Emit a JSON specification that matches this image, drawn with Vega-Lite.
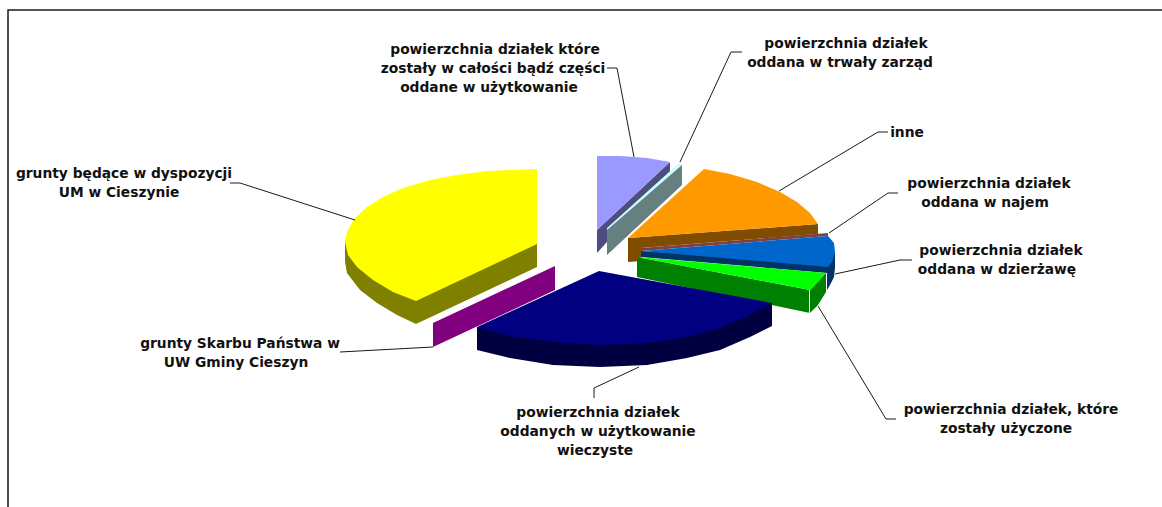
{"$schema":"https://vega.github.io/schema/vega-lite/v6.json","width":1162,"height":507,"autosize":{"type":"none"},"padding":0,"background":"white","config":{"view":{"stroke":null}},
"datasets":{
"shapes":[
{"part":"lilac side","x":597,"y":230},{"part":"lilac side","x":670,"y":162},{"part":"lilac side","x":670,"y":172},{"part":"lilac side","x":597,"y":253},
{"part":"lilac top","x":597,"y":156},{"part":"lilac top","x":620,"y":156},{"part":"lilac top","x":647,"y":158},{"part":"lilac top","x":670,"y":162},{"part":"lilac top","x":597,"y":230},
{"part":"teal side","x":607,"y":229},{"part":"teal side","x":682,"y":164},{"part":"teal side","x":682,"y":185},{"part":"teal side","x":607,"y":255},
{"part":"teal top","x":607,"y":228},{"part":"teal top","x":678,"y":164},{"part":"teal top","x":682,"y":162},{"part":"teal top","x":682,"y":165},{"part":"teal top","x":607,"y":230},
{"part":"orange side","x":628,"y":238},{"part":"orange side","x":818,"y":224},{"part":"orange side","x":818,"y":234},{"part":"orange side","x":641,"y":248},{"part":"orange side","x":641,"y":261},{"part":"orange side","x":628,"y":262},
{"part":"orange top","x":628,"y":238},{"part":"orange top","x":704,"y":169},{"part":"orange top","x":730,"y":174},{"part":"orange top","x":757,"y":182},{"part":"orange top","x":780,"y":192},{"part":"orange top","x":797,"y":202},{"part":"orange top","x":810,"y":213},{"part":"orange top","x":818,"y":224},
{"part":"maroon","x":641,"y":248},{"part":"maroon","x":828,"y":233},{"part":"maroon","x":828,"y":236},{"part":"maroon","x":641,"y":251},
{"part":"blue side","x":641,"y":251},{"part":"blue side","x":830,"y":262},{"part":"blue side","x":835,"y":252},{"part":"blue side","x":835,"y":268},{"part":"blue side","x":834,"y":277},{"part":"blue side","x":830,"y":285},{"part":"blue side","x":827,"y":290},{"part":"blue side","x":827,"y":273},{"part":"blue side","x":641,"y":257},
{"part":"blue top","x":641,"y":251},{"part":"blue top","x":828,"y":236},{"part":"blue top","x":834,"y":243},{"part":"blue top","x":835,"y":252},{"part":"blue top","x":832,"y":262},{"part":"blue top","x":828,"y":267},
{"part":"green side","x":637,"y":257},{"part":"green side","x":810,"y":290},{"part":"green side","x":826,"y":273},{"part":"green side","x":826,"y":292},{"part":"green side","x":818,"y":305},{"part":"green side","x":810,"y":313},{"part":"green side","x":637,"y":277},
{"part":"green top","x":637,"y":257},{"part":"green top","x":826,"y":273},{"part":"green top","x":818,"y":282},{"part":"green top","x":810,"y":290},
{"part":"green edge","x":809,"y":290},{"part":"green edge","x":810,"y":290},{"part":"green edge","x":810,"y":313},{"part":"green edge","x":809,"y":313},
{"part":"navy side","x":477,"y":327},{"part":"navy side","x":772,"y":303},{"part":"navy side","x":772,"y":326},{"part":"navy side","x":750,"y":337},{"part":"navy side","x":720,"y":350},{"part":"navy side","x":687,"y":358},{"part":"navy side","x":647,"y":365},{"part":"navy side","x":600,"y":367},{"part":"navy side","x":553,"y":365},{"part":"navy side","x":510,"y":358},{"part":"navy side","x":477,"y":350},
{"part":"navy top","x":599,"y":271},{"part":"navy top","x":772,"y":303},{"part":"navy top","x":750,"y":315},{"part":"navy top","x":720,"y":328},{"part":"navy top","x":687,"y":337},{"part":"navy top","x":647,"y":343},{"part":"navy top","x":600,"y":345},{"part":"navy top","x":553,"y":342},{"part":"navy top","x":510,"y":336},{"part":"navy top","x":477,"y":327},
{"part":"purple","x":433,"y":323},{"part":"purple","x":555,"y":266},{"part":"purple","x":555,"y":290},{"part":"purple","x":433,"y":347},
{"part":"yellow side","x":345,"y":240},{"part":"yellow side","x":537,"y":244},{"part":"yellow side","x":537,"y":267},{"part":"yellow side","x":416,"y":324},{"part":"yellow side","x":397,"y":315},{"part":"yellow side","x":377,"y":303},{"part":"yellow side","x":360,"y":290},{"part":"yellow side","x":347,"y":273},{"part":"yellow side","x":345,"y":262},
{"part":"yellow top","x":537,"y":169},{"part":"yellow top","x":537,"y":244},{"part":"yellow top","x":416,"y":301},{"part":"yellow top","x":393,"y":292},{"part":"yellow top","x":373,"y":280},{"part":"yellow top","x":357,"y":267},{"part":"yellow top","x":348,"y":255},{"part":"yellow top","x":345,"y":242},{"part":"yellow top","x":347,"y":232},{"part":"yellow top","x":354,"y":219},{"part":"yellow top","x":367,"y":207},{"part":"yellow top","x":383,"y":197},{"part":"yellow top","x":403,"y":188},{"part":"yellow top","x":430,"y":180},{"part":"yellow top","x":457,"y":175},{"part":"yellow top","x":487,"y":171},{"part":"yellow top","x":510,"y":170}
],
"leaders":[
{"line":"uzytkowanie","x":607,"y":68},{"line":"uzytkowanie","x":617,"y":68},{"line":"uzytkowanie","x":634,"y":157},
{"line":"trwaly","x":742,"y":52},{"line":"trwaly","x":731,"y":52},{"line":"trwaly","x":680,"y":162},
{"line":"inne","x":888,"y":132},{"line":"inne","x":878,"y":132},{"line":"inne","x":779,"y":191},
{"line":"najem","x":898,"y":193},{"line":"najem","x":888,"y":193},{"line":"najem","x":829,"y":233},
{"line":"dzierzawa","x":912,"y":260},{"line":"dzierzawa","x":900,"y":260},{"line":"dzierzawa","x":835,"y":274},
{"line":"uzyczone","x":896,"y":419},{"line":"uzyczone","x":886,"y":419},{"line":"uzyczone","x":818,"y":306},
{"line":"wieczyste","x":639,"y":367},{"line":"wieczyste","x":594,"y":388},{"line":"wieczyste","x":594,"y":398},
{"line":"skarb","x":433,"y":347},{"line":"skarb","x":340,"y":352},
{"line":"um","x":230,"y":183},{"line":"um","x":240,"y":183},{"line":"um","x":355,"y":220}
],
"frame":[{"x":8,"y":507},{"x":8,"y":10},{"x":1162,"y":10}],
"labels":[
{"text":"powierzchnia działek które","x":495,"y":50},{"text":"zostały w całości bądź części","x":493,"y":69},{"text":"oddane w użytkowanie","x":489,"y":88},
{"text":"powierzchnia działek","x":846,"y":44},{"text":"oddana  w trwały zarząd","x":840,"y":63},
{"text":"inne","x":907,"y":133},
{"text":"powierzchnia działek","x":989,"y":184},{"text":"oddana w najem","x":985,"y":203},
{"text":"powierzchnia działek","x":1001,"y":251},{"text":"oddana w dzierżawę","x":997,"y":270},
{"text":"powierzchnia działek, które","x":1011,"y":410},{"text":"zostały użyczone","x":1006,"y":429},
{"text":"grunty będące w dyspozycji","x":124,"y":174},{"text":"UM w Cieszynie","x":119,"y":193},
{"text":"grunty Skarbu Państwa w","x":240,"y":344},{"text":"UW Gminy Cieszyn","x":236,"y":363},
{"text":"powierzchnia działek","x":598,"y":413},{"text":"oddanych w użytkowanie","x":598,"y":432},{"text":"wieczyste","x":595,"y":451}
]},
"encoding":{
"x":{"field":"x","type":"quantitative","scale":{"domain":[0,1162],"nice":false,"zero":false},"axis":null},
"y":{"field":"y","type":"quantitative","scale":{"domain":[507,0],"nice":false,"zero":false},"axis":null}},
"layer":[
{"data":{"name":"frame"},"transform":[{"window":[{"op":"row_number","as":"seq"}]}],"mark":{"type":"line","stroke":"#1a1a1a","strokeWidth":1.5},"encoding":{"order":{"field":"seq","type":"quantitative"}}},
{"data":{"name":"shapes"},"transform":[{"window":[{"op":"row_number","as":"seq"}]}],"mark":{"type":"line","filled":true,"strokeWidth":0},"encoding":{"order":{"field":"seq","type":"quantitative"},
"color":{"field":"part","type":"nominal","legend":null,"sort":null,"scale":{
"domain":["lilac side","lilac top","teal side","teal top","orange side","orange top","maroon","blue side","blue top","green side","green top","green edge","navy side","navy top","purple","yellow side","yellow top"],
"range":["#4d4d80","#9999ff","#668080","#ccffff","#804d00","#ff9900","#804040","#003366","#0066cc","#008000","#00ff00","#ffffff","#000040","#000080","#800080","#808000","#ffff00"]}}}},
{"data":{"name":"leaders"},"transform":[{"window":[{"op":"row_number","as":"seq"}]}],"mark":{"type":"line","stroke":"#1a1a1a","strokeWidth":1},"encoding":{"order":{"field":"seq","type":"quantitative"},"detail":{"field":"line","type":"nominal"}}},
{"data":{"name":"labels"},"mark":{"type":"text","font":"DejaVu Sans","fontWeight":"bold","fontSize":13.8,"align":"center","baseline":"middle","fill":"#111111"},"encoding":{"text":{"field":"text","type":"nominal"}}}
]}
